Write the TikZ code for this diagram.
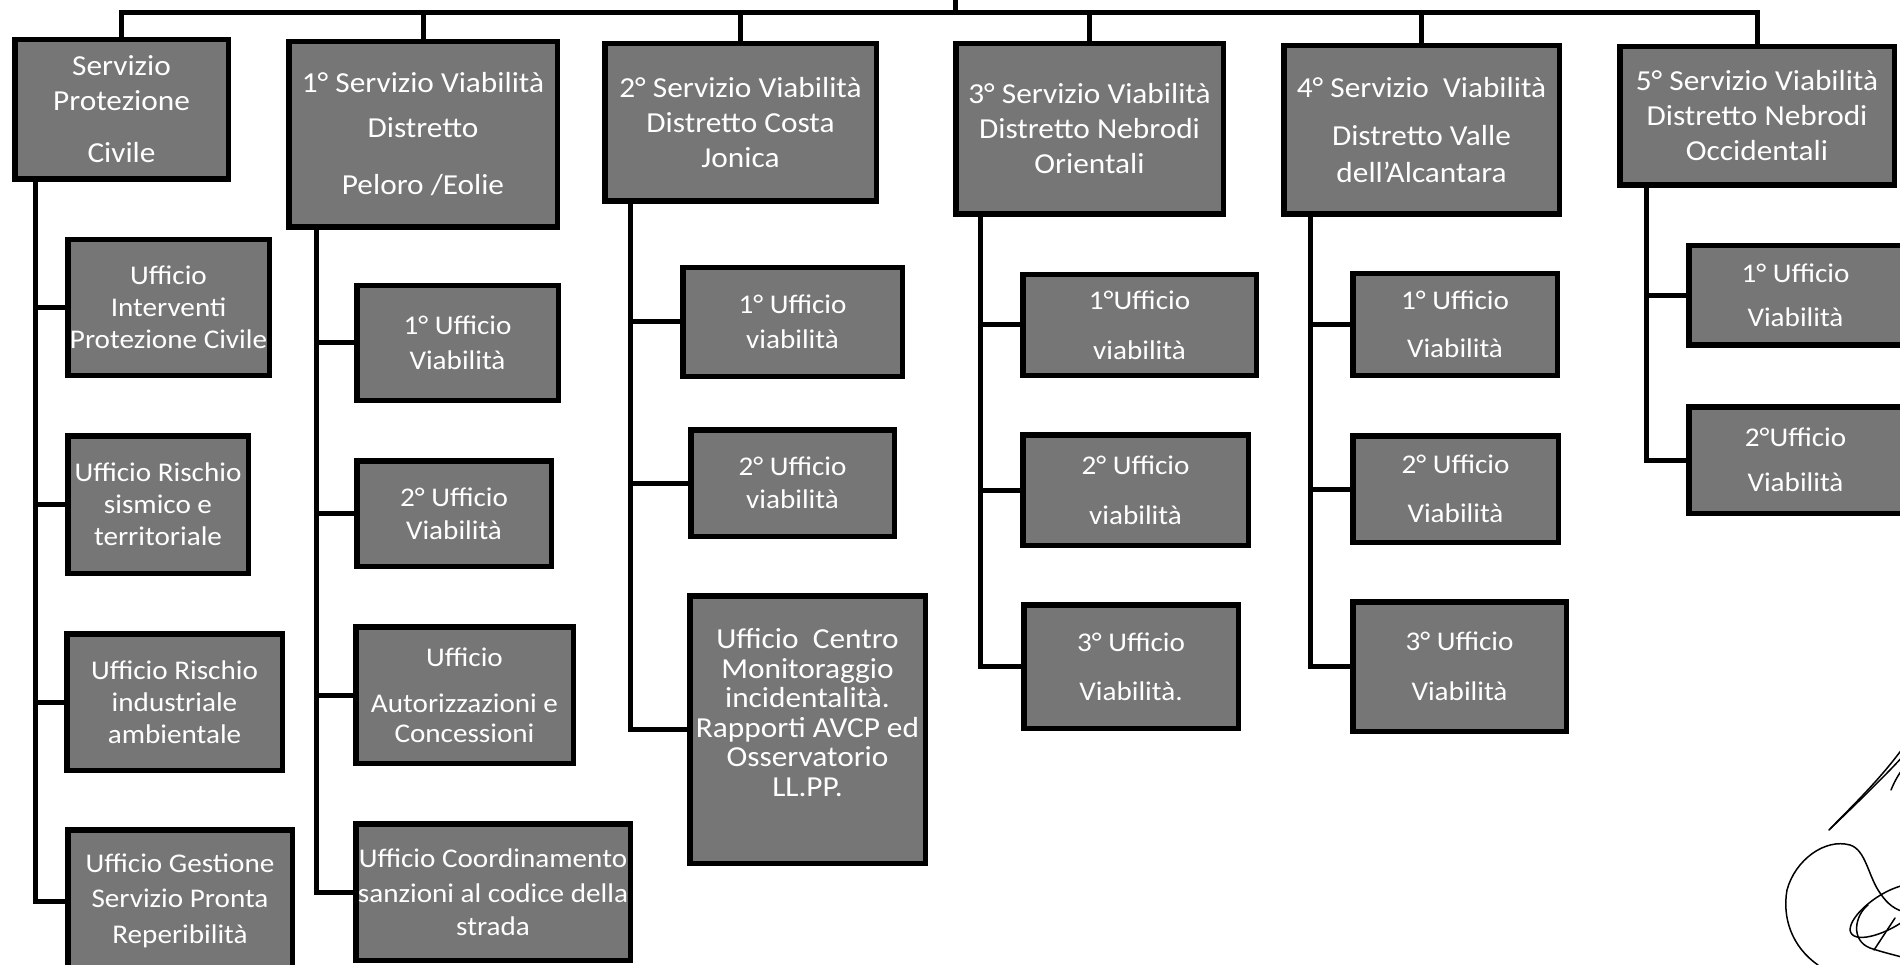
\documentclass[tikz,border=0pt]{standalone}
\usepackage{fontspec}
\setmainfont{Carlito}[FakeStretch=1.08]
\definecolor{boxgray}{RGB}{118,118,118}
\tikzset{
  ubox/.style={draw=black, line width=5.5pt, fill=boxgray, text=white,
    inner sep=0pt, outer sep=2.75pt, align=center,
    font=\fontsize{27}{32}\selectfont},
  headbox/.style={ubox, font=\fontsize{29}{35}\selectfont},
  link/.style={draw=black, line width=5pt, line cap=rect},
  pen/.style={draw=black, line width=1.5pt, line cap=round, line join=round}
}
% \orgbox[style]{name}{x1}{y1}{x2}{y2}{text}: box given by its outer edges
\newcommand\orgbox[7][]{%
  \node[ubox,#1, minimum width={#5-#3-5.5}, minimum height={#6-#4-5.5}]
    (#2) at ({(#3+#5)/2},{(#4+#6)/2}) {#7};}

\begin{document}
\begin{tikzpicture}[x=1pt, y=-1pt]
\useasboundingbox (0,0) rectangle (1900,965);

% services
\orgbox[headbox]{spc}{12}{37}{231}{182}{Servizio\\Protezione\\[17pt]Civile}
\orgbox[headbox]{sv1}{286}{39}{560}{230}{1° Servizio Viabilità\\[10pt]Distretto\\[22pt]Peloro /Eolie}
\orgbox[headbox]{sv2}{602}{41}{879}{204}{2° Servizio Viabilità\\Distretto Costa\\Jonica}
\orgbox[headbox]{sv3}{953}{41}{1226}{217}{3° Servizio Viabilità\\Distretto Nebrodi\\Orientali}
\orgbox[headbox]{sv4}{1281}{43}{1562}{217}{4° Servizio\ \ Viabilità\\[13pt]Distretto Valle\\[2pt]dell’Alcantara}
\orgbox[headbox]{sv5}{1617}{44}{1897}{188}{5° Servizio Viabilità\\Distretto Nebrodi\\Occidentali}

% offices of the civil protection service
\orgbox{g1}{65}{237}{272}{378}{Ufficio\\Interventi\\Protezione Civile}
\orgbox{g2}{65}{433}{251}{576}{Ufficio Rischio\\sismico e\\territoriale}
\orgbox{g3}{64}{631}{285}{773}{Ufficio Rischio\\industriale\\ambientale}
\orgbox{g4}{65}{827}{295}{975}{Ufficio Gestione\\[3pt]Servizio Pronta\\[4pt]Reperibilità}

% offices of the 1st district
\orgbox{h1}{354}{283}{561}{403}{1° Ufficio\\[3pt]Viabilità}
\orgbox{h2}{354}{458}{554}{569}{2° Ufficio\\[1pt]Viabilità}
\orgbox{h3}{353}{624}{576}{766}{Ufficio\\[14pt]Autorizzazioni e\\[-2pt]Concessioni}
\orgbox{h4}{353}{821}{633}{963}{Ufficio Coordinamento\\[3pt]sanzioni al codice della\\[1pt]strada}

% offices of the 2nd district
\orgbox{i1}{680}{265}{905}{379}{1° Ufficio\\[3pt]viabilità}
\orgbox{i2}{688}{427}{897}{539}{2° Ufficio\\[1pt]viabilità}
\orgbox[font=\fontsize{29}{29.5}\selectfont]{i3}{687}{593}{928}{866}{Ufficio\ \ Centro\\Monitoraggio\\incidentalità.\\Rapporti AVCP ed\\Osservatorio\\LL.PP.\rule[-34pt]{0pt}{34pt}}

% offices of the 3rd district
\orgbox{j1}{1020}{272}{1259}{378}{1°Ufficio\\[18pt]viabilità}
\orgbox{j2}{1020}{432}{1251}{548}{2° Ufficio\\[18pt]viabilità}
\orgbox{j3}{1021}{602}{1241}{731}{3° Ufficio\\[17pt]Viabilità.}

% offices of the 4th district
\orgbox{k1}{1350}{271}{1560}{378}{1° Ufficio\\[16pt]Viabilità}
\orgbox{k2}{1350}{433}{1561}{545}{2° Ufficio\\[17pt]Viabilità}
\orgbox{k3}{1350}{599}{1569}{734}{3° Ufficio\\[18pt]Viabilità}

% offices of the 5th district
\orgbox{l1}{1686}{243}{1905}{348}{1° Ufficio\\[12pt]Viabilità}
\orgbox{l2}{1686}{404}{1905}{516}{2°Ufficio\\[13pt]Viabilità}

% top bus
\coordinate (bus) at (0,13);
\coordinate (stub) at (955,-10);
\draw[link] (spc.north) -- (spc.north |- bus) -- (sv5.north |- bus) -- (sv5.north);
\foreach \n in {sv1,sv2,sv3,sv4}
  \draw[link] (\n.north) -- (\n.north |- bus);
\draw[link] (stub) -- (stub |- bus);

% column spines
\coordinate (c1) at (35,0);
\coordinate (c2) at (316,0);
\coordinate (c3) at (630,0);
\coordinate (c4) at (980,0);
\coordinate (c5) at (1310,0);
\coordinate (c6) at (1646,0);

\draw[link] (spc.south -| c1) -- (g4.west -| c1) -- (g4.west);
\foreach \n in {g1,g2,g3} \draw[link] (\n.west -| c1) -- (\n.west);

\draw[link] (sv1.south -| c2) -- (h4.west -| c2) -- (h4.west);
\foreach \n in {h1,h2,h3} \draw[link] (\n.west -| c2) -- (\n.west);

\draw[link] (sv2.south -| c3) -- (i3.west -| c3) -- (i3.west);
\foreach \n in {i1,i2} \draw[link] (\n.west -| c3) -- (\n.west);

\draw[link] (sv3.south -| c4) -- (j3.west -| c4) -- (j3.west);
\foreach \n in {j1,j2} \draw[link] (\n.west -| c4) -- (\n.west);

\draw[link] (sv4.south -| c5) -- (k3.west -| c5) -- (k3.west);
\foreach \n in {k1,k2} \draw[link] (\n.west -| c5) -- (\n.west);

\draw[link] (sv5.south -| c6) -- (l2.west -| c6) -- (l2.west);
\draw[link] (l1.west -| c6) -- (l1.west);

% handwritten signature
\draw[pen] (1829,830) .. controls (1850,808) and (1880,780) .. (1905,745);
\draw[pen] (1831,828) .. controls (1858,802) and (1885,776) .. (1905,754);
\draw[pen] (1891,790) .. controls (1895,780) and (1900,772) .. (1905,766);
\draw[pen] (1818,965) .. controls (1792,947) and (1782,918) .. (1787,890)
  .. controls (1795,860) and (1825,838) .. (1850,845)
  .. controls (1866,850) and (1868,876) .. (1880,893)
  .. controls (1888,905) and (1896,910) .. (1905,912);
\draw[pen] (1905,885) .. controls (1880,890) and (1850,915) .. (1850,930)
  .. controls (1852,945) and (1885,935) .. (1905,920);
\draw[pen] (1868,905) .. controls (1855,915) and (1850,940) .. (1870,948)
  .. controls (1885,953) and (1895,955) .. (1905,958);
\draw[pen] (1874,950) -- (1895,918);
\end{tikzpicture}
\end{document}
